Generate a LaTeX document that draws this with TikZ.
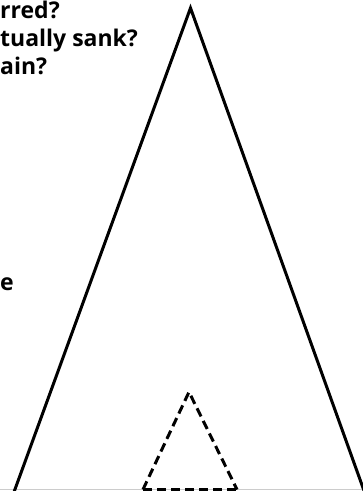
\documentclass[tikz,border=0pt]{standalone}
\usepackage{fontspec}
\setmainfont{Open Sans}
\begin{document}
\begin{tikzpicture}[x=1pt,y=-1pt,
  lbl/.style={anchor=base west,inner sep=0pt,font=\fontsize{23}{25}\selectfont\bfseries},
  solidside/.style={line width=3pt,line join=miter},
  dashside/.style={line width=3pt,dash pattern=on 9pt off 5pt}]
\useasboundingbox (0,0) rectangle (363,491);
\node[lbl] (l1) at (0,18) {rred?};
\node[lbl] (l2) at (0,46) {tually sank?};
\node[lbl] (l3) at (0,74) {ain?};
\node[lbl] (l4) at (0,290) {e};
\draw[gray!40,line width=1pt] (0,489.5) -- (363,489.5);
\coordinate (A) at (190.5,8);
\coordinate (BL) at (14,492);
\coordinate (BR) at (364.5,492);
\draw[solidside] (BL) -- (A) -- (BR);
\coordinate (a) at (189,392);
\coordinate (bl) at (143,489.5);
\coordinate (br) at (237,489.5);
\draw[dashside] (bl) -- (a) -- (br);
\draw[dashside] (bl) -- (br);
\end{tikzpicture}
\end{document}
